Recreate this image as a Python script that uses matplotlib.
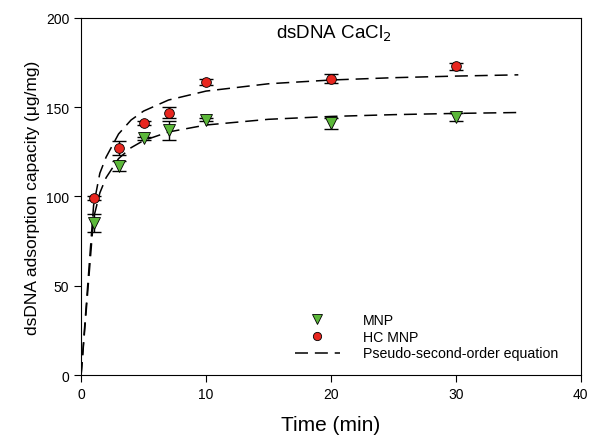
import matplotlib
matplotlib.use('Agg')
import matplotlib.pyplot as plt

plt.rcParams['font.family'] = ['Liberation Sans', 'DejaVu Sans']

# measured points
t = [1, 3, 5, 7, 10, 20, 30]
mnp = [85, 117, 132.5, 137, 143, 141, 144.5]
mnp_err = [5, 3, 1, 5.5, 1, 3, 2]
hc = [99, 127, 141, 147, 164, 166, 173]
hc_err = [1, 4, 1, 3, 1.5, 2.5, 2]

# fitted curves
t_fit = [0, 1, 1.5, 2, 3, 4, 5, 7, 10, 15, 20, 25, 30, 35]
hc_fit = [0, 95, 113, 122, 135, 142.8, 147.8, 154, 159,
          163.1, 165.2, 166.5, 167.4, 168.1]
mnp_fit = [0, 88, 102, 110.5, 121.2, 127.3, 131.3, 136.1, 140,
           143.2, 144.8, 145.8, 146.5, 147]

fig = plt.figure(figsize=(5.92, 4.39), dpi=100)
ax = fig.add_axes([0.137, 0.1435, 0.844, 0.8135])

ax.errorbar(t, mnp, yerr=mnp_err, fmt='none', ecolor='black', elinewidth=1, capsize=5, capthick=1, zorder=2)
ax.errorbar(t, hc, yerr=hc_err, fmt='none', ecolor='black', elinewidth=1, capsize=5, capthick=1, zorder=2)
ax.plot(t, mnp, linestyle='none', marker='v', markersize=8, markerfacecolor='#5cb83a',
        markeredgecolor='black', markeredgewidth=0.6, label='MNP', zorder=3)
ax.plot(t, hc, linestyle='none', marker='o', markersize=7, markerfacecolor='#e8261f',
        markeredgecolor='black', markeredgewidth=0.6, label='HC MNP', zorder=3)
ax.plot(t_fit, mnp_fit, color='black', linestyle=(0, (8.5, 4.5)), linewidth=1.1,
        label='Pseudo-second-order equation', zorder=1)
ax.plot(t_fit, hc_fit, color='black', linestyle=(0, (8.5, 4.5)), linewidth=1.1, zorder=1)

ax.set_xlim(0, 40)
ax.set_ylim(0, 200)
ax.set_xticks([0, 10, 20, 30, 40])
ax.set_yticks([0, 50, 100, 150, 200])
ax.tick_params(direction='out', length=5, labelsize=10)
ax.set_xlabel('Time (min)', fontsize=15, labelpad=10)
ax.set_ylabel('dsDNA adsorption capacity (\u03bcg/mg)', fontsize=12.5)

ax.text(20.2, 191.5, 'dsDNA CaCl$_2$', ha='center', va='center', fontsize=13.5)

ax.legend(loc='lower right', bbox_to_anchor=(0.98, 0.005), frameon=False, fontsize=10.2,
          handlelength=3.2, labelspacing=0.2, handletextpad=1.6, markerscale=0.85)

fig.savefig('out.png', dpi=100)
